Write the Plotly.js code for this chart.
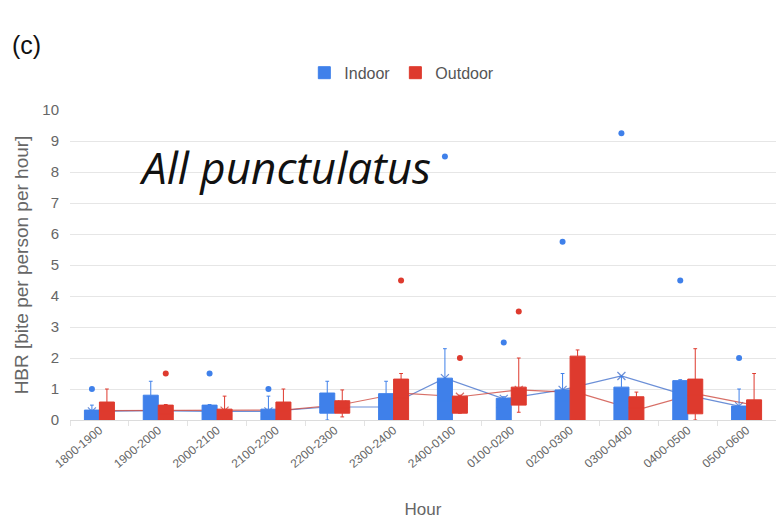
<!DOCTYPE html>
<html>
<head>
<meta charset="utf-8">
<script src="https://cdn.plot.ly/plotly-3.0.1.min.js"></script>
<style>html,body{margin:0;padding:0;background:#fff;}#chart{width:776px;height:519px;}</style>
</head>
<body>
<div id="chart"></div>
<script>
const categories = ['1800-1900','1900-2000','2000-2100','2100-2200','2200-2300','2300-2400','2400-0100','0100-0200','0200-0300','0300-0400','0400-0500','0500-0600'];

// Indoor box statistics
const indoorLower  = [0, 0, 0, 0, 0, 0, 0, 0, 0, 0, 0, 0];
const indoorQ1     = [0, 0, 0, 0, 0.22, 0, 0, 0, 0, 0, 0, 0];
const indoorMedian = [0.1, 0.3, 0.2, 0.1, 0.5, 0.4, 0.6, 0.4, 0.6, 0.6, 0.7, 0.3];
const indoorQ3     = [0.32, 0.8, 0.48, 0.35, 0.87, 0.85, 1.35, 0.7, 0.97, 1.06, 1.27, 0.45];
const indoorUpper  = [0.48, 1.25, 0.5, 0.77, 1.25, 1.25, 2.3, 0.75, 1.5, 1.4, 1.3, 1.0];
const indoorMean   = [0.28, 0.3, 0.28, 0.28, 0.42, 0.42, 1.35, 0.68, 0.97, 1.42, 0.85, 0.45];
const indoorOutlierCats = ['1800-1900','2000-2100','2100-2200','2400-0100','0100-0200','0200-0300','0300-0400','0400-0500','0500-0600'];
const indoorOutlierVals = [1.0, 1.5, 1.0, 8.5, 2.5, 5.75, 9.25, 4.5, 2.0];

// Outdoor box statistics
const outdoorLower  = [0, 0, 0, 0, 0.1, 0, 0.22, 0.25, 0, 0, 0, 0];
const outdoorQ1     = [0, 0, 0, 0, 0.22, 0, 0.22, 0.48, 0, 0, 0.2, 0];
const outdoorMedian = [0.3, 0.2, 0.15, 0.3, 0.4, 0.7, 0.5, 0.8, 1.0, 0.4, 0.8, 0.3];
const outdoorQ3     = [0.58, 0.48, 0.35, 0.58, 0.62, 1.32, 0.77, 1.06, 2.06, 0.75, 1.32, 0.65];
const outdoorUpper  = [1.0, 0.5, 0.77, 1.0, 0.97, 1.5, 0.8, 2.0, 2.26, 0.9, 2.3, 1.5];
const outdoorMean   = [0.3, 0.3, 0.3, 0.32, 0.5, 0.87, 0.75, 0.97, 0.88, 0.32, 0.85, 0.48];
const outdoorOutlierCats = ['1900-2000','2300-2400','2400-0100','0100-0200'];
const outdoorOutlierVals = [1.5, 4.5, 2.0, 3.5];

const BLUE = '#3f80ea';
const RED = '#de3a2e';

const traces = [
  {
    type: 'scatter', mode: 'lines+markers', x: categories, y: indoorMean, offsetgroup: 'in',
    line: {color: 'rgba(70,115,205,0.8)', width: 1.2},
    marker: {symbol: 'x-thin-open', size: 8, line: {color: 'rgba(70,115,205,0.9)', width: 1.2}},
    showlegend: false, hoverinfo: 'skip'
  },
  {
    type: 'scatter', mode: 'lines+markers', x: categories, y: outdoorMean, offsetgroup: 'out',
    line: {color: 'rgba(205,75,65,0.8)', width: 1.2},
    marker: {symbol: 'x-thin-open', size: 8, line: {color: 'rgba(205,75,65,0.9)', width: 1.2}},
    showlegend: false, hoverinfo: 'skip'
  },
  {
    type: 'scatter', mode: 'markers', x: indoorOutlierCats, y: indoorOutlierVals, offsetgroup: 'in',
    marker: {color: BLUE, size: 6}, showlegend: false, hoverinfo: 'skip'
  },
  {
    type: 'scatter', mode: 'markers', x: outdoorOutlierCats, y: outdoorOutlierVals, offsetgroup: 'out',
    marker: {color: RED, size: 6}, showlegend: false, hoverinfo: 'skip'
  },
  {
    type: 'box', name: 'Indoor', x: categories, xaxis: 'x2', yaxis: 'y2',
    lowerfence: indoorLower, q1: indoorQ1, median: indoorMedian, q3: indoorQ3, upperfence: indoorUpper,
    fillcolor: BLUE, line: {color: BLUE, width: 1}, whiskerwidth: 0.25,
    offsetgroup: 'in', boxpoints: false, hoverinfo: 'skip'
  },
  {
    type: 'box', name: 'Outdoor', x: categories, xaxis: 'x2', yaxis: 'y2',
    lowerfence: outdoorLower, q1: outdoorQ1, median: outdoorMedian, q3: outdoorQ3, upperfence: outdoorUpper,
    fillcolor: RED, line: {color: RED, width: 1}, whiskerwidth: 0.25,
    offsetgroup: 'out', boxpoints: false, hoverinfo: 'skip'
  }
];

const layout = {
  width: 776, height: 519,
  margin: {l: 70, r: 0, t: 110, b: 99},
  paper_bgcolor: '#fff', plot_bgcolor: '#fff',
  font: {family: 'Liberation Sans, Arial, sans-serif', color: '#666'},
  boxmode: 'group', boxgap: 0.49, boxgroupgap: 0,
  scattermode: 'group', scattergap: 0.49,
  showlegend: true,
  legend: {orientation: 'h', x: 0.47, xanchor: 'center', y: 1.12, yanchor: 'middle',
           font: {size: 16, color: '#555'}, itemwidth: 30, traceorder: 'normal'},
  xaxis: {
    type: 'category', categoryorder: 'array', categoryarray: categories,
    range: [-0.5, 11.5],
    tickangle: -40, tickfont: {size: 12, color: '#666'},
    ticks: 'outside', tickson: 'boundaries', ticklen: 5, tickcolor: '#e3e3e3',
    showgrid: false, showline: false, zeroline: false,
    title: {text: 'Hour', font: {size: 17, color: '#666'}, standoff: 33}
  },
  yaxis: {
    range: [0, 10], dtick: 1, tick0: 0,
    tickfont: {size: 15, color: '#666'}, ticklabelstandoff: 10,
    gridcolor: '#e6e6e6', gridwidth: 1, zeroline: true, zerolinecolor: '#dcdcdc',
    showline: false, ticks: '',
    title: {text: 'HBR [bite per person per hour]', font: {size: 19, color: '#666'}, standoff: 8}
  },
  xaxis2: {
    type: 'category', categoryorder: 'array', categoryarray: categories,
    range: [-0.5, 11.5], overlaying: 'x', visible: false, showgrid: false, zeroline: false
  },
  yaxis2: {
    range: [0, 10], overlaying: 'y', visible: false, showgrid: false, zeroline: false
  },
  annotations: [
    {text: '(c)', xref: 'paper', yref: 'paper', x: -0.085, y: 1.21, xanchor: 'left', yanchor: 'middle',
     showarrow: false, font: {size: 25, color: '#111', family: 'Liberation Sans, Arial, sans-serif'}},
    {text: '<i>All punctulatus</i>', xref: 'paper', yref: 'paper', x: 0.095, y: 0.815, xanchor: 'left', yanchor: 'middle',
     showarrow: false, font: {size: 44, color: '#111', family: 'Open Sans, Noto Sans, sans-serif'}}
  ]
};

Plotly.newPlot('chart', traces, layout, {displayModeBar: false, staticPlot: true});
</script>
</body>
</html>
